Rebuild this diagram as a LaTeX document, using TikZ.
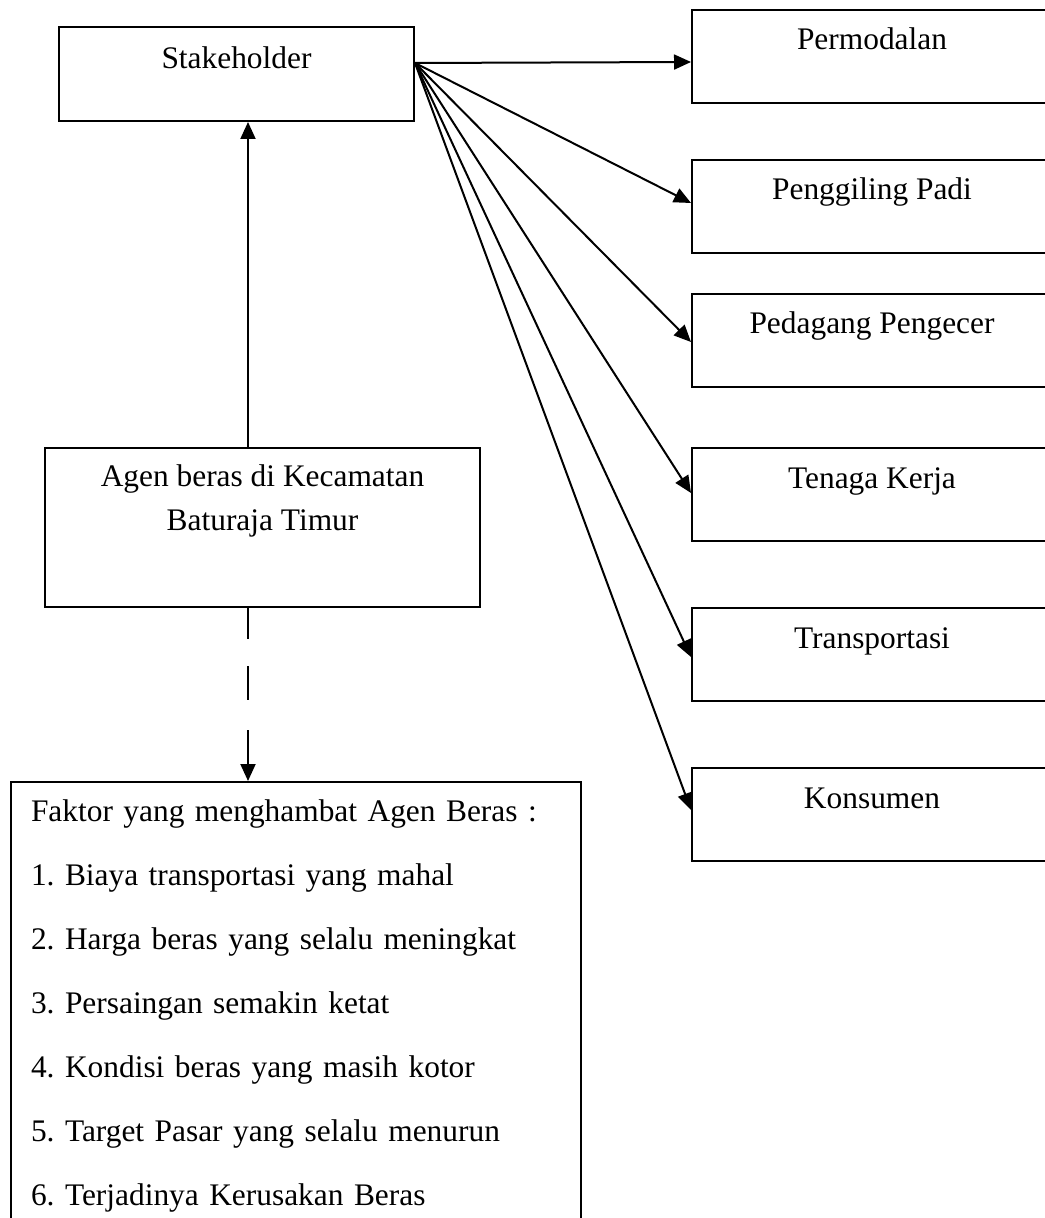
\documentclass[tikz,border=0pt]{standalone}
\usepackage{fontspec}
\setmainfont{Liberation Serif}
\usetikzlibrary{arrows.meta}
\frenchspacing

\tikzset{
  kotak/.style={draw, line width=1pt, inner xsep=0pt, inner ysep=0pt, font=\fontsize{15.7}{21.5}\selectfont},
  panah/.style={-{Triangle[length=8.5pt,width=7.5pt]}, line width=1pt},
}

\begin{document}
\begin{tikzpicture}[x=0.5pt,y=-0.5pt]
  \useasboundingbox (0,0) rectangle (1044,1218);

  \node[kotak, anchor=north west, minimum width=177.5pt, text height=21pt, text depth=26pt] (stake) at (58,26) {Stakeholder};
  \node[kotak, anchor=north west, minimum width=217.5pt, align=center, text height=41pt, text depth=38.5pt] (agen) at (44,447) {Agen beras di Kecamatan\\Baturaja Timur};
  \node[kotak, anchor=north west, inner xsep=10pt, text width=265pt, align=left, font=\fontsize{15.7}{32}\selectfont\frenchspacing, text height=19.5pt, text depth=210pt] (faktor) at (10,781)
    {Faktor yang menghambat Agen Beras :\\
     1. Biaya transportasi yang mahal\\
     2. Harga beras yang selalu meningkat\\
     3. Persaingan semakin ketat\\
     4. Kondisi beras yang masih kotor\\
     5. Target Pasar yang selalu menurun\\
     6. Terjadinya Kerusakan Beras};

  \draw[panah] ([xshift=-7.25pt]agen.north) -- ([xshift=-7.25pt]agen.north |- stake.south);
  \draw[panah, dash pattern=on 15.5pt off 13.5pt on 17pt off 15pt on 40pt] ([xshift=-7.25pt]agen.south) -- ([xshift=-7.25pt]agen.south |- faktor.north);

  \foreach \nm/\txt/\ya/\dy in {modal/Permodalan/9/53, giling/Penggiling Padi/159/44, ecer/Pedagang Pengecer/293/49,
      kerja/Tenaga Kerja/447/46, trans/Transportasi/607/50, konsumen/Konsumen/767/43} {
    \node[kotak, anchor=north west, minimum width=180pt, text height=20pt, text depth=26.5pt] (\nm) at (691,\ya) {\txt};
    \draw[panah] ([yshift=-18.5pt]stake.north east) -- ([yshift=-\dy*0.5pt]\nm.north west);
  }
\end{tikzpicture}
\end{document}
